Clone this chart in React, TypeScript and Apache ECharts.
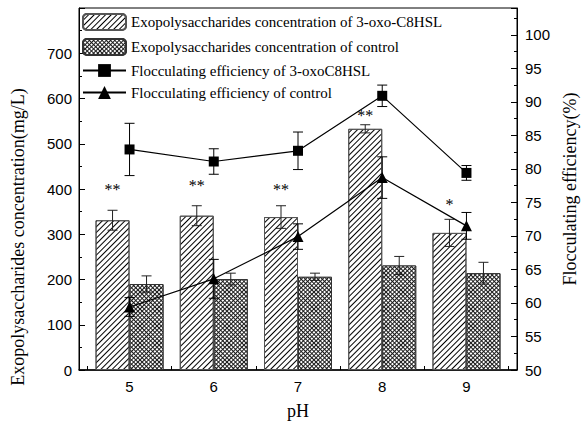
import React, { useEffect, useRef } from "react";
import * as echarts from "echarts";

const phValues = [5, 6, 7, 8, 9];
const xTickPositions = [4.5, 5.5, 6.5, 7.5, 8.5, 9.5];
const epsOxo = [331, 341, 338, 533, 303];
const epsOxoErr = [22, 22, 25, 9, 30];
const epsControl = [190, 201, 206, 231, 214];
const epsControlErr = [18, 13, 8, 20, 24];
const flocOxo = [82.9, 81.1, 82.7, 90.9, 79.4];
const flocOxoErr = [3.9, 1.9, 2.8, 1.6, 1.1];
const flocControl = [59.4, 63.6, 69.9, 78.7, 71.5];
const flocControlErr = [1.4, 2.9, 1.9, 3.1, 2.0];
const significance = ["**", "**", "**", "**", "*"];
const significanceY = [398, 407, 398, 562, 365];

const NAME_OXO_BAR = "Exopolysaccharides concentration of 3-oxo-C8HSL";
const NAME_CTRL_BAR = "Exopolysaccharides concentration of control";
const NAME_OXO_LINE = "Flocculating efficiency of 3-oxoC8HSL";
const NAME_CTRL_LINE = "Flocculating efficiency of control";

const SERIF = "'Liberation Serif', 'Times New Roman', serif";
const SANS = "'Liberation Sans', Arial, sans-serif";
const BAR_W = 34;

function errorBars(xs: number[], vals: number[], errs: number[], yAxisIndex: number, shift: number, color: string) {
  return {
    type: "custom",
    xAxisIndex: 0,
    yAxisIndex,
    silent: true,
    z: 6,
    itemStyle: { color },
    data: xs.map((x, i) => [x, vals[i], errs[i]]),
    renderItem: (params: any, api: any) => {
      const x = api.value(0);
      const y = api.value(1);
      const e = api.value(2);
      const hi = api.coord([x, y + e]);
      const lo = api.coord([x, y - e]);
      const cx = hi[0] + shift;
      const half = 5;
      const style = { stroke: color, lineWidth: 1 };
      return {
        type: "group",
        children: [
          { type: "line", shape: { x1: cx, y1: hi[1], x2: cx, y2: lo[1] }, style },
          { type: "line", shape: { x1: cx - half, y1: hi[1], x2: cx + half, y2: hi[1] }, style },
          { type: "line", shape: { x1: cx - half, y1: lo[1], x2: cx + half, y2: lo[1] }, style },
        ],
      };
    },
  };
}

export default function App() {
  const ref = useRef<HTMLDivElement>(null);
  useEffect(() => {
    document.body.style.margin = "0";
    if (!ref.current) return;
    const chart = echarts.init(ref.current, undefined, { renderer: "svg" });
    const option: any = {
      animation: false,
      backgroundColor: "#fff",
      grid: {
        left: 79,
        right: 60,
        top: 8,
        bottom: 60,
        show: true,
        borderColor: "#000",
        borderWidth: 1,
        backgroundColor: "transparent",
      },
      legend: {
        orient: "vertical",
        left: 82,
        top: 13,
        padding: 0,
        itemWidth: 43,
        itemHeight: 16,
        itemGap: 7,
        data: [NAME_OXO_BAR, NAME_CTRL_BAR, NAME_OXO_LINE, NAME_CTRL_LINE],
        textStyle: { fontFamily: SERIF, fontSize: 15, color: "#000" },
      },
      xAxis: {
        type: "value",
        min: 4.4,
        max: 9.6,
        axisLine: { show: true, lineStyle: { color: "#000", width: 1.5 } },
        axisTick: { show: true, inside: true, length: 4, customValues: xTickPositions, lineStyle: { color: "#000" } },
        axisLabel: { customValues: phValues, fontFamily: SANS, fontSize: 15, color: "#000", margin: 9 },
        splitLine: { show: false },
        name: "pH",
        nameLocation: "middle",
        nameGap: 32,
        nameTextStyle: { fontFamily: SERIF, fontSize: 18, color: "#000" },
      },
      yAxis: [
        {
          type: "value",
          min: 0,
          max: 800,
          interval: 100,
          position: "left",
          axisLine: { show: true, lineStyle: { color: "#000", width: 1 } },
          axisTick: { show: true, inside: true, length: 6, lineStyle: { color: "#000" } },
          minorTick: { show: true, splitNumber: 2, length: 3, lineStyle: { color: "#000" } },
          axisLabel: {
            fontFamily: SANS,
            fontSize: 15,
            color: "#000",
            margin: 7,
            formatter: (v: number) => (v >= 800 ? "" : String(v)),
          },
          splitLine: { show: false },
        },
        {
          type: "value",
          min: 50,
          max: 104,
          interval: 5,
          position: "right",
          axisLine: { show: true, lineStyle: { color: "#000", width: 1 } },
          axisTick: { show: true, inside: true, length: 6, lineStyle: { color: "#000" } },
          minorTick: { show: true, splitNumber: 2, length: 3, lineStyle: { color: "#000" } },
          axisLabel: {
            fontFamily: SANS,
            fontSize: 15,
            color: "#000",
            margin: 8,
            formatter: (v: number) => (v > 100 ? "" : String(v)),
          },
          splitLine: { show: false },
          name: "Flocculating efficiency(%)",
          nameLocation: "middle",
          nameGap: 44,
          nameRotate: 90,
          nameTextStyle: { fontFamily: SERIF, fontSize: 18, color: "#000" },
        },
      ],
      graphic: [
        {
          type: "text",
          x: 18,
          y: 237,
          rotation: Math.PI / 2,
          style: {
            text: "Exopolysaccharides concentration(mg/L)",
            fontFamily: SERIF,
            fontSize: 18,
            fill: "#000",
            align: "center",
            verticalAlign: "middle",
          },
        },
      ],
      series: [
        {
          type: "bar",
          name: NAME_OXO_BAR,
          xAxisIndex: 0,
          yAxisIndex: 0,
          barWidth: BAR_W,
          barGap: "0%",
          data: phValues.map((x, i) => [x, epsOxo[i]]),
          itemStyle: {
            color: "#fff",
            borderColor: "#555",
            borderWidth: 1,
            decal: {
              symbol: "rect",
              symbolSize: 1,
              color: "#000",
              dashArrayX: [1, 0],
              dashArrayY: [1, 2.2],
              rotation: -Math.PI / 4,
            },
          },
        },
        {
          type: "bar",
          name: NAME_CTRL_BAR,
          xAxisIndex: 0,
          yAxisIndex: 0,
          barWidth: BAR_W,
          barGap: "0%",
          data: phValues.map((x, i) => [x, epsControl[i]]),
          itemStyle: {
            color: "#1a1a1a",
            borderColor: "#333",
            borderWidth: 1,
            decal: {
              symbol: "rect",
              symbolSize: 1,
              color: "#fff",
              dashArrayX: [1.5, 1],
              dashArrayY: [1.5, 1],
              rotation: Math.PI / 4,
            },
          },
        },
        errorBars(phValues, epsOxo, epsOxoErr, 0, -BAR_W / 2, "#222"),
        errorBars(phValues, epsControl, epsControlErr, 0, BAR_W / 2, "#222"),
        {
          type: "line",
          name: NAME_OXO_LINE,
          xAxisIndex: 0,
          yAxisIndex: 1,
          z: 10,
          symbol: "rect",
          symbolSize: 10,
          data: phValues.map((x, i) => [x, flocOxo[i]]),
          itemStyle: { color: "#000" },
          lineStyle: { color: "#000", width: 1.2 },
        },
        {
          type: "line",
          name: NAME_CTRL_LINE,
          xAxisIndex: 0,
          yAxisIndex: 1,
          z: 10,
          symbol: "triangle",
          symbolSize: 11,
          data: phValues.map((x, i) => [x, flocControl[i]]),
          itemStyle: { color: "#000" },
          lineStyle: { color: "#000", width: 1.2 },
        },
        errorBars(phValues, flocOxo, flocOxoErr, 1, 0, "#000"),
        errorBars(phValues, flocControl, flocControlErr, 1, 0, "#000"),
        {
          type: "custom",
          xAxisIndex: 0,
          yAxisIndex: 0,
          silent: true,
          z: 7,
          itemStyle: { color: "#000" },
          data: phValues.map((x, i) => [x, significanceY[i], i]),
          renderItem: (params: any, api: any) => {
            const p = api.coord([api.value(0), api.value(1)]);
            const idx = api.value(2);
            return {
              type: "text",
              x: p[0] - BAR_W / 2,
              y: p[1],
              style: {
                text: significance[idx],
                fontFamily: SERIF,
                fontSize: 16,
                fill: "#000",
                stroke: "none",
                lineWidth: 0,
                align: "center",
                verticalAlign: "middle",
              },
            };
          },
        },
      ],
    };
    chart.setOption(option);
    return () => chart.dispose();
  }, []);
  return <div ref={ref} style={{ width: 587, height: 430 }} />;
}
